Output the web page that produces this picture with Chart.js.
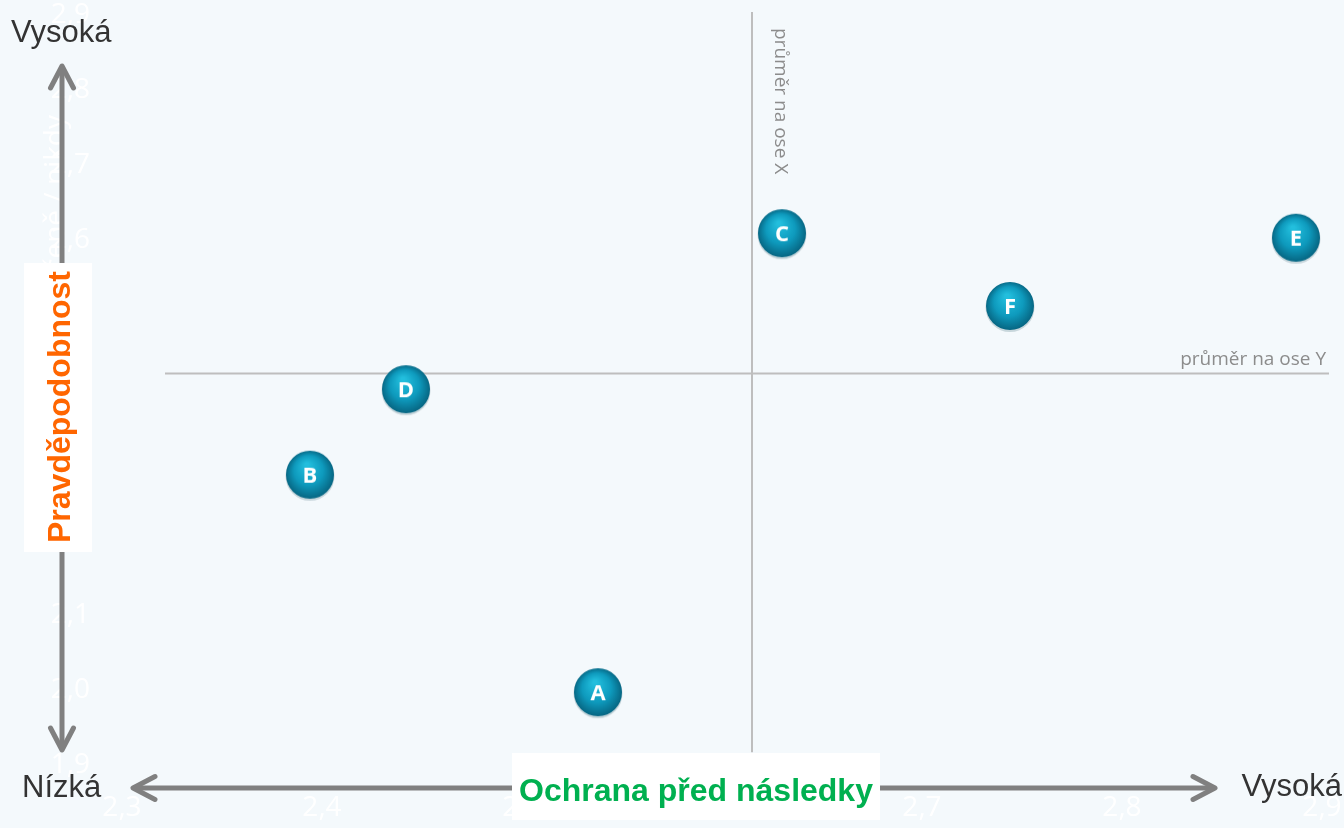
<!DOCTYPE html>
<html lang="cs">
<head>
<meta charset="utf-8">
<title>Ochrana před následky × Pravděpodobnost</title>
<script src="https://cdn.jsdelivr.net/npm/chart.js@4.4.1/dist/chart.umd.min.js"></script>
<style>
  html, body { margin: 0; padding: 0; background: #F4F9FC; }
  #wrap { width: 1344px; height: 828px; position: relative; }
</style>
</head>
<body>
<div id="wrap"><canvas id="riskChart"></canvas></div>
<script>
// values
const pointLabels = ["A", "B", "C", "D", "E", "F"];
const protectionValues = [2.538, 2.394, 2.63, 2.442, 2.887, 2.744];
const likelihoodValues = [1.997, 2.287, 2.609, 2.401, 2.603, 2.512];

const xTickValues = [2.3, 2.4, 2.5, 2.6, 2.7, 2.8, 2.9];
const yTickValues = [1.9, 2.0, 2.1, 2.2, 2.3, 2.4, 2.5, 2.6, 2.7, 2.8, 2.9];

const averageX = 2.615;
const averageY = 2.422;
const averageXSpan = [1.917, 2.904]; // y extent of the vertical average line
const averageYSpan = [2.3215, 2.9035]; // x extent of the horizontal average line

const yHiddenTitle = "Výskyt: zaručeně / nikdy";

const grey = "#808080";
const avgGrey = "#BEBEBE";

// shaded ball with letter, used as the point style
function makeBall(letter) {
  const c = document.createElement("canvas");
  c.width = 54;
  c.height = 54;
  const g = c.getContext("2d");
  // soft shadow
  g.fillStyle = "rgba(0,60,80,0.18)";
  g.beginPath();
  g.arc(27, 28.5, 24.5, 0, Math.PI * 2);
  g.fill();
  const grad = g.createRadialGradient(24, 17, 2, 27, 27, 25);
  grad.addColorStop(0, "#22BEDD");
  grad.addColorStop(0.55, "#0E9ABD");
  grad.addColorStop(1, "#06627E");
  g.fillStyle = grad;
  g.beginPath();
  g.arc(27, 27, 24, 0, Math.PI * 2);
  g.fill();
  g.fillStyle = "#fff";
  g.font = "bold 22px 'Open Sans'";
  g.textAlign = "center";
  g.textBaseline = "middle";
  g.fillText(letter, 27, 28.5);
  return c;
}

const fmt = (v) => v.toFixed(1).replace(".", ",");

function arrowHead(ctx, tx, ty, dx, dy) {
  // dx,dy: unit direction the arrow points to
  const len = 22, half = 11.5;
  const bx = tx - dx * len, by = ty - dy * len;
  ctx.beginPath();
  ctx.moveTo(bx - dy * half, by + dx * half);
  ctx.lineTo(tx, ty);
  ctx.lineTo(bx + dy * half, by - dx * half);
  ctx.stroke();
}

const decorations = {
  id: "decorations",
  beforeDatasetsDraw(chart) {
    const ctx = chart.ctx;
    const xs = chart.scales.x, ys = chart.scales.y;
    ctx.save();
    // faint white axis title
    ctx.save();
    ctx.translate(64, 115);
    ctx.rotate(-Math.PI / 2);
    ctx.fillStyle = "#ffffff";
    ctx.font = "28px 'Open Sans'";
    ctx.textAlign = "right";
    ctx.textBaseline = "alphabetic";
    ctx.fillText(yHiddenTitle, 0, 0);
    ctx.restore();

    ctx.fillStyle = "#8C8C8C";
    ctx.font = "19px 'Open Sans'";
    // label of the vertical average line
    ctx.save();
    ctx.translate(xs.getPixelForValue(averageX) + 23, 28);
    ctx.rotate(Math.PI / 2);
    ctx.textAlign = "left";
    ctx.textBaseline = "alphabetic";
    ctx.fillText("průměr na ose X", 0, 0);
    ctx.restore();
    // label of the horizontal average line
    ctx.textAlign = "right";
    ctx.textBaseline = "alphabetic";
    ctx.fillText("průměr na ose Y", xs.getPixelForValue(averageYSpan[1]) - 3, ys.getPixelForValue(averageY) - 9);
    ctx.restore();
  },
  afterDraw(chart) {
    const ctx = chart.ctx;
    ctx.save();
    // axis arrows
    ctx.strokeStyle = grey;
    ctx.lineWidth = 5;
    ctx.lineCap = "round";
    ctx.lineJoin = "round";
    ctx.beginPath();
    ctx.moveTo(62, 68);
    ctx.lineTo(62, 748);
    ctx.stroke();
    arrowHead(ctx, 62, 66, 0, -1);
    arrowHead(ctx, 62, 750, 0, 1);
    ctx.beginPath();
    ctx.moveTo(135, 788);
    ctx.lineTo(1213, 788);
    ctx.stroke();
    arrowHead(ctx, 133, 788, -1, 0);
    arrowHead(ctx, 1215, 788, 1, 0);

    // end labels
    ctx.fillStyle = "#333333";
    ctx.font = "31px 'Liberation Sans', Arial";
    ctx.textBaseline = "alphabetic";
    ctx.textAlign = "left";
    ctx.fillText("Vysoká", 11, 42);
    ctx.fillText("Nízká", 22, 797);
    ctx.textAlign = "right";
    ctx.fillText("Vysoká", 1342, 796);

    // axis titles in white boxes
    ctx.fillStyle = "#ffffff";
    ctx.fillRect(24, 263, 68, 289);
    ctx.fillRect(512, 753, 368, 67);
    ctx.font = "bold 32px 'Liberation Sans', Arial";
    ctx.fillStyle = "#00B050";
    ctx.textAlign = "center";
    ctx.fillText("Ochrana před následky", 696, 801);
    ctx.save();
    ctx.translate(70, 407);
    ctx.rotate(-Math.PI / 2);
    ctx.fillStyle = "#FF6600";
    ctx.fillText("Pravděpodobnost", 0, 0);
    ctx.restore();
    ctx.restore();
  }
};

const ctx = document.getElementById("riskChart").getContext("2d");

new Chart(ctx, {
  type: "scatter",
  data: {
    datasets: [
      {
        label: "Rizika",
        data: protectionValues.map((x, i) => ({ x: x, y: likelihoodValues[i] })),
        pointStyle: pointLabels.map(makeBall),
        pointRadius: 24,
        pointHoverRadius: 24,
        order: 0,
      },
      {
        type: "line",
        label: "průměr na ose X",
        data: [
          { x: averageX, y: averageXSpan[0] },
          { x: averageX, y: averageXSpan[1] },
        ],
        borderColor: avgGrey,
        borderWidth: 2,
        pointRadius: 0,
        showLine: true,
        clip: false,
        order: 2,
      },
      {
        type: "line",
        label: "průměr na ose Y",
        data: [
          { x: averageYSpan[0], y: averageY },
          { x: averageYSpan[1], y: averageY },
        ],
        borderColor: avgGrey,
        borderWidth: 2,
        pointRadius: 0,
        showLine: true,
        clip: false,
        order: 2,
      },
    ],
  },
  options: {
    responsive: true,
    maintainAspectRatio: false,
    animation: false,
    layout: { autoPadding: false, padding: { top: 15, right: 22, left: 0, bottom: 0 } },
    plugins: {
      legend: { display: false },
      tooltip: { enabled: false },
    },
    scales: {
      x: {
        type: "linear",
        min: 2.3,
        max: 2.9,
        afterBuildTicks: (scale) => {
          scale.ticks = xTickValues.map((v) => ({ value: v }));
        },
        afterFit: (scale) => {
          scale.height = 63;
          scale.paddingLeft = 0;
          scale.paddingRight = 0;
        },
        grid: { display: false, drawTicks: false },
        border: { display: false },
        ticks: {
          color: "#ffffff",
          font: { family: "'Open Sans'", size: 28, lineHeight: 1 },
          padding: 29,
          maxRotation: 0,
          callback: (v) => fmt(v),
        },
      },
      y: {
        type: "linear",
        min: 1.9,
        max: 2.9,
        afterBuildTicks: (scale) => {
          scale.ticks = yTickValues.map((v) => ({ value: v }));
        },
        afterFit: (scale) => {
          scale.width = 122;
          scale.paddingTop = 0;
          scale.paddingBottom = 0;
        },
        grid: { display: false, drawTicks: false },
        border: { display: false },
        ticks: {
          color: "#ffffff",
          font: { family: "'Open Sans'", size: 28, lineHeight: 1 },
          padding: 32,
          callback: (v) => fmt(v),
        },
      },
    },
  },
  plugins: [decorations],
});
</script>
</body>
</html>
